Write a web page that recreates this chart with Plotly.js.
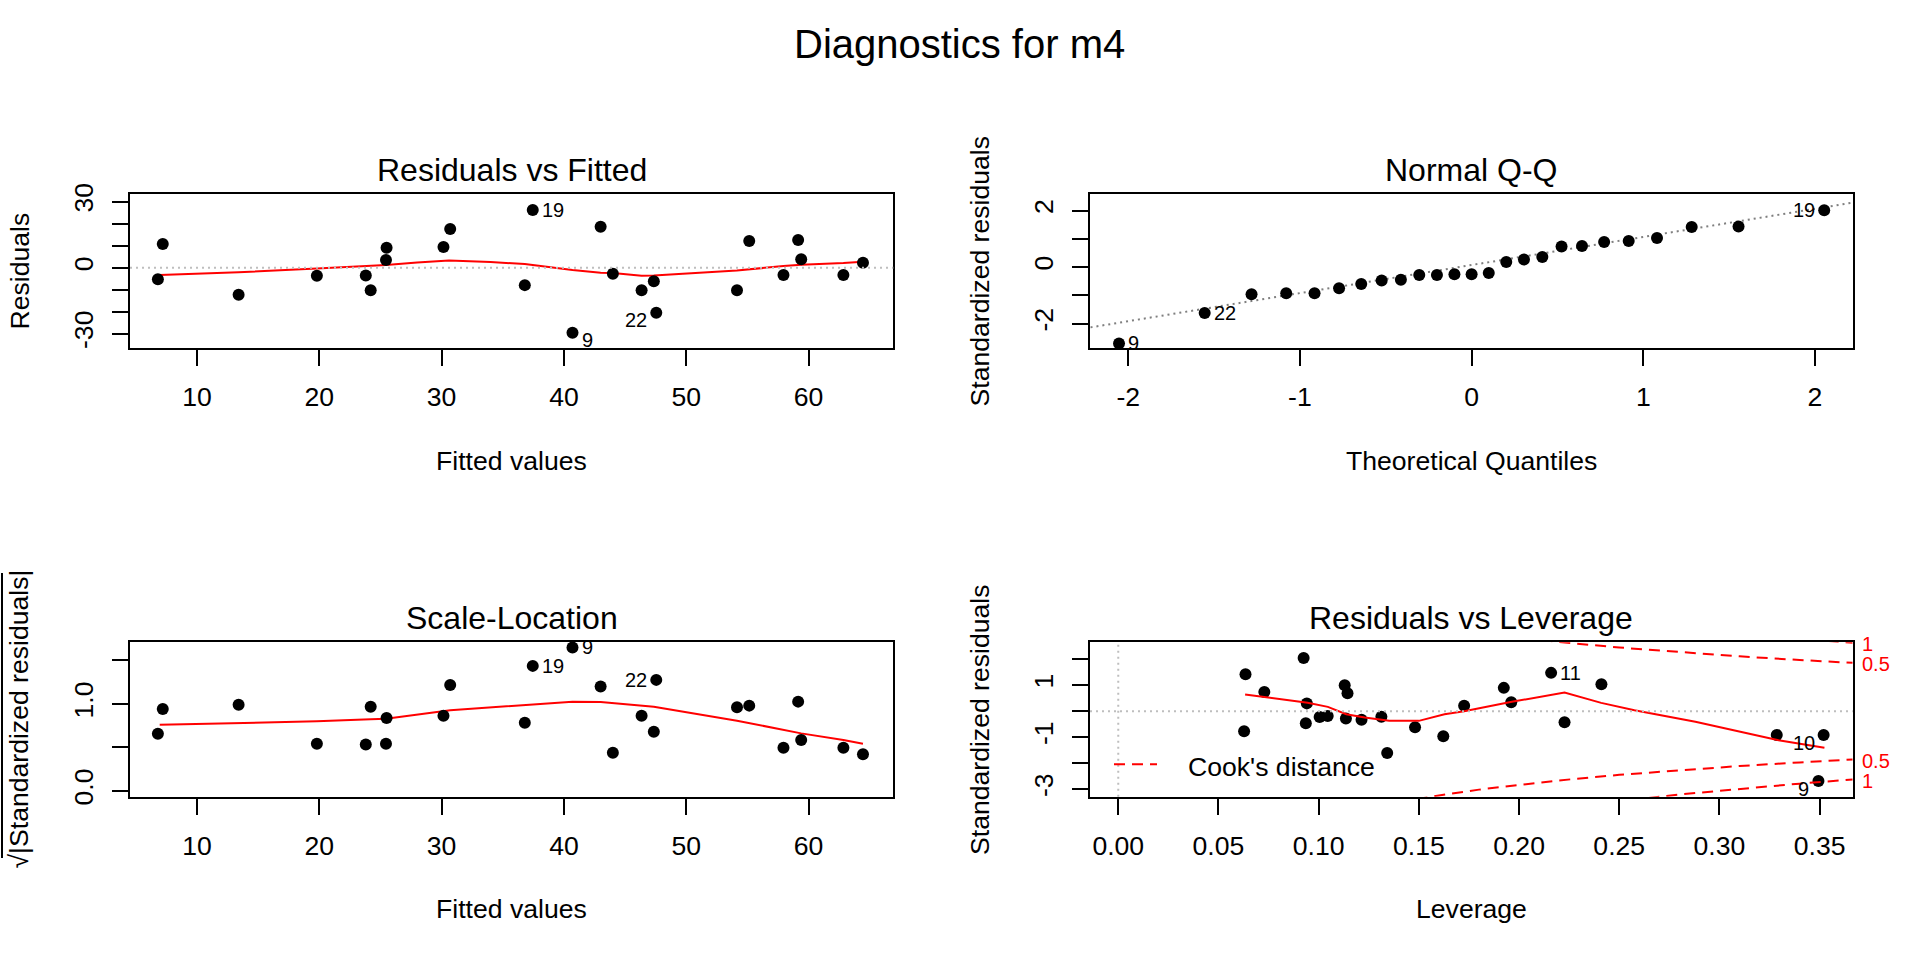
<!DOCTYPE html>
<html>
<head>
<meta charset="utf-8">
<script src="https://cdn.plot.ly/plotly-3.0.1.min.js"></script>
<style>html,body{margin:0;padding:0;background:#fff;}#plot{width:1920px;height:960px;}</style>
</head>
<body>
<div id="plot"></div>
<script>
// ---------------- data ----------------
// Residuals vs Fitted / Scale-Location (same observations, same order)
const fitted = [6.8,7.2,13.4,19.8,23.8,24.2,25.45,25.5,30.15,30.7,36.8,37.45,40.7,43.0,44.0,46.35,47.35,47.55,54.15,55.15,57.95,59.15,59.4,62.85,64.45];
const residuals = [-5.2,10.8,-12.3,-3.6,-3.5,-10.2,3.5,9.1,9.4,17.6,-7.9,26.2,-29.5,18.6,-2.7,-10.2,-6.1,-20.5,-10.2,12.1,-3.3,12.6,3.9,-3.3,2.3];
const sqrtAbsStdRes = [0.658,0.942,0.992,0.542,0.535,0.969,0.542,0.838,0.865,1.219,0.785,1.438,1.65,1.20,0.438,0.865,0.681,1.277,0.962,0.981,0.496,1.027,0.585,0.496,0.423];
// smoother lines
const smoothFitX = [6.95,13.4,19.8,23.8,25.45,28.0,30.6,34.0,36.8,40.7,43.0,44.0,46.35,47.35,54.15,57.95,59.4,62.85,64.45];
const smoothResY = [-3.33,-2.1,-0.3,0.76,1.2,2.4,3.33,2.6,1.67,-1.06,-2.27,-2.4,-3.6,-3.5,-1.2,0.76,1.36,2.1,2.7];
const smoothSLX = [6.95,13.4,19.8,24.2,25.45,30.7,36.8,40.7,43.0,46.35,47.35,54.15,57.95,59.4,62.85,64.45];
const smoothSLY = [0.762,0.781,0.80,0.823,0.831,0.927,0.992,1.027,1.023,0.985,0.969,0.808,0.70,0.662,0.585,0.542];
// Normal Q-Q
const theoQ = [-2.054,-1.555,-1.282,-1.080,-0.915,-0.772,-0.643,-0.524,-0.412,-0.305,-0.202,-0.100,0,0.100,0.202,0.305,0.412,0.524,0.643,0.772,0.915,1.080,1.282,1.555,2.054];
const qqStdRes = [-2.70,-1.62,-0.96,-0.92,-0.92,-0.75,-0.60,-0.47,-0.45,-0.28,-0.28,-0.25,-0.25,-0.21,0.18,0.27,0.36,0.73,0.75,0.89,0.92,1.03,1.42,1.44,2.01];
const qqLineX = [-2.22, 2.22];
const qqLineY = [-2.13, 2.28];
// Residuals vs Leverage
const leverage = [0.0635,0.0628,0.0729,0.0925,0.0936,0.0941,0.1005,0.1045,0.1130,0.1144,0.1136,0.1214,0.1313,0.1342,0.1481,0.1622,0.1726,0.1924,0.1961,0.2160,0.2227,0.2411,0.3286,0.3520,0.3494];
const levStdRes = [1.425,-0.774,0.740,2.045,-0.460,0.300,-0.222,-0.185,0.995,0.690,-0.280,-0.330,-0.210,-1.605,-0.615,-0.960,0.205,0.897,0.346,1.474,-0.423,1.038,-0.915,-0.915,-2.685];
const smoothLevX = [0.0633,0.0945,0.1046,0.1138,0.123,0.1352,0.150,0.1628,0.1726,0.1964,0.2227,0.241,0.2576,0.288,0.3295,0.3524];
const smoothLevY = [0.641,0.32,0.167,-0.115,-0.244,-0.372,-0.372,-0.115,0.0,0.359,0.718,0.32,0.038,-0.41,-1.115,-1.41];
const cookLev05 = [0.14,0.15,0.16,0.18,0.20,0.22,0.25,0.28,0.31,0.34,0.3665];
const cook05 = [3.505,3.367,3.240,3.018,2.828,2.663,2.449,2.268,2.110,1.970,1.859];
const cookLev1 = [0.22,0.25,0.28,0.31,0.34,0.3665];
const cook1 = [3.766,3.464,3.207,2.984,2.787,2.629];
const cookLabelText = ['1','0.5','0.5','1'];
const cookLabelY = [-2.629,-1.859,1.859,2.629];
// labelled observations
const idP1 = [{x:37.45,y:26.2,t:'19',side:'r',dy:0},{x:40.7,y:-29.5,t:'9',side:'r',dy:-7},{x:47.55,y:-20.5,t:'22',side:'l',dy:-7}];
const idP2 = [{x:-2.054,y:-2.70,t:'9',side:'r',dy:0},{x:-1.555,y:-1.62,t:'22',side:'r',dy:0},{x:2.054,y:2.01,t:'19',side:'l',dy:0}];
const idP3 = [{x:40.7,y:1.65,t:'9',side:'r',dy:0},{x:37.45,y:1.438,t:'19',side:'r',dy:0},{x:47.55,y:1.277,t:'22',side:'l',dy:0}];
const idP4 = [{x:0.2160,y:1.474,t:'11',side:'r',dy:0},{x:0.3520,y:-0.915,t:'10',side:'l',dy:-8},{x:0.3494,y:-2.685,t:'9',side:'l',dy:-8}];
// tick labels
const fitTicks = [10,20,30,40,50,60];
const resTickVals = [-30,-20,-10,0,10,20,30];
const resTickText = ['-30','','','0','','','30'];
const qqXTicks = [-2,-1,0,1,2];
const qqYVals = [-2,-1,0,1,2];
const qqYText = ['-2','','0','','2'];
const slYVals = [0,0.5,1.0,1.5];
const slYText = ['0.0','','1.0',''];
const levXVals = [0,0.05,0.10,0.15,0.20,0.25,0.30,0.35];
const levXText = ['0.00','0.05','0.10','0.15','0.20','0.25','0.30','0.35'];
const levYVals = [-3,-2,-1,0,1,2];
const levYText = ['-3','','-1','','1',''];

// ---------------- layout helpers ----------------
const W = 1920, H = 960;
const px = v => v / W;
const py = v => 1 - v / H;
const FONT = 'Liberation Sans, Arial, Helvetica, sans-serif';
const TICKF = 26.6, IDF = 20;

function xAxis(dom, range, vals, text, anchor) {
  return {domain: dom, range: range, anchor: anchor, tickmode: 'array', tickvals: vals, ticktext: text,
    ticks: 'outside', ticklen: 16, tickwidth: 2, tickcolor: '#000', showline: true, linewidth: 2, linecolor: '#000',
    mirror: true, showgrid: false, zeroline: false, tickfont: {family: FONT, size: TICKF, color: '#000'},
    ticklabelstandoff: 8, fixedrange: true};
}
function yAxis(dom, range, vals, text, anchor) {
  const a = xAxis(dom, range, vals, text, anchor);
  a.tickangle = -90;
  a.ticklabelstandoff = 8;
  return a;
}

const P1x = [px(130), px(893.3)], P1y = [py(348.3), py(194)];
const P2x = [px(1090), px(1852.7)], P2y = P1y;
const P3x = P1x, P3y = [py(796.7), py(641.7)];
const P4x = P2x, P4y = [py(796.7), py(642.3)];

const pts = (x, y, xa, ya) => ({x: x, y: y, xaxis: xa, yaxis: ya, type: 'scatter', mode: 'markers',
  marker: {color: '#000', size: 12, line: {width: 0}}, hoverinfo: 'skip', showlegend: false, cliponaxis: false});
const line = (x, y, xa, ya, color, dash, width) => ({x: x, y: y, xaxis: xa, yaxis: ya, type: 'scatter', mode: 'lines',
  line: {color: color, dash: dash, width: width}, hoverinfo: 'skip', showlegend: false});

const COOKDASH = '11px,7px';
const traces = [
  line(smoothFitX, smoothResY, 'x', 'y', '#FF0000', 'solid', 2),
  pts(fitted, residuals, 'x', 'y'),
  line(qqLineX, qqLineY, 'x2', 'y2', '#7F7F7F', '2px,4px', 2),
  pts(theoQ, qqStdRes, 'x2', 'y2'),
  line(smoothSLX, smoothSLY, 'x3', 'y3', '#FF0000', 'solid', 2),
  pts(fitted, sqrtAbsStdRes, 'x3', 'y3'),
  pts(leverage, levStdRes, 'x4', 'y4'),
  line(smoothLevX, smoothLevY, 'x4', 'y4', '#FF0000', 'solid', 2),
  line(cookLev05, cook05, 'x4', 'y4', '#FF0000', COOKDASH, 2),
  line(cookLev05, cook05.map(v => -v), 'x4', 'y4', '#FF0000', COOKDASH, 2),
  line(cookLev1, cook1, 'x4', 'y4', '#FF0000', COOKDASH, 2),
  line(cookLev1, cook1.map(v => -v), 'x4', 'y4', '#FF0000', COOKDASH, 2)
];

const ann = [];
function txt(x, y, t, size, opts) {
  ann.push(Object.assign({x: px(x), y: py(y), xref: 'paper', yref: 'paper', text: t, showarrow: false,
    font: {family: FONT, size: size, color: '#000'}, xanchor: 'center', yanchor: 'middle', borderpad: 0}, opts || {}));
}
txt(959, 44, 'Diagnostics for m4', 40);
txt(511.7, 169.7, 'Residuals vs Fitted', 32);
txt(1471.3, 169.7, 'Normal Q-Q', 32);
txt(511.7, 618, 'Scale-Location', 32);
txt(1471.3, 618, 'Residuals vs Leverage', 32);
txt(511.7, 461, 'Fitted values', TICKF);
txt(1471.3, 461, 'Theoretical Quantiles', TICKF);
txt(511.7, 909, 'Fitted values', TICKF);
txt(1471.3, 909, 'Leverage', TICKF);
txt(19.5, 271, 'Residuals', TICKF, {textangle: -90});
txt(979.5, 271, 'Standardized residuals', TICKF, {textangle: -90});
txt(18.5, 719, '\u221A|Standardized residuals|', TICKF, {textangle: -90});
txt(979.5, 719.5, 'Standardized residuals', TICKF, {textangle: -90});
txt(1186.7, 766.7, "Cook's distance", TICKF, {xanchor: 'left'});

function ids(list, xa, ya) {
  list.forEach(d => ann.push({x: d.x, y: d.y, xref: xa, yref: ya, text: d.t, showarrow: false,
    font: {family: FONT, size: IDF, color: '#000'}, xanchor: d.side === 'r' ? 'left' : 'right', yanchor: 'middle',
    xshift: d.side === 'r' ? 8 : -8, yshift: d.dy, borderpad: 0}));
}
ids(idP1, 'x', 'y'); ids(idP2, 'x2', 'y2'); ids(idP3, 'x3', 'y3'); ids(idP4, 'x4', 'y4');
// Cook's distance contour labels in the right margin of the leverage panel
cookLabelY.forEach((v, i) => ann.push({x: 1, y: v, xref: 'x4 domain', yref: 'y4', text: cookLabelText[i], showarrow: false,
  font: {family: FONT, size: IDF, color: '#FF0000'}, xanchor: 'left', yanchor: 'middle', xshift: 8, yshift: -1, borderpad: 0}));

const shapes = [
  {type: 'line', xref: 'x domain', yref: 'y', x0: 0, x1: 1, y0: 0, y1: 0, line: {color: '#BEBEBE', width: 2, dash: '2px,4px'}},
  {type: 'line', xref: 'x4 domain', yref: 'y4', x0: 0, x1: 1, y0: 0, y1: 0, line: {color: '#BEBEBE', width: 2, dash: '2px,4px'}},
  {type: 'line', xref: 'x4', yref: 'y4 domain', x0: 0, x1: 0, y0: 0, y1: 1, line: {color: '#BEBEBE', width: 2, dash: '2px,4px'}},
  {type: 'line', xref: 'paper', yref: 'paper', x0: px(1114), x1: px(1157), y0: py(764.3), y1: py(764.3), line: {color: '#FF0000', width: 2, dash: COOKDASH}},
  {type: 'line', xref: 'paper', yref: 'paper', x0: px(2), x1: px(2), y0: py(573), y1: py(858), line: {color: '#000', width: 2}}
];

const layout = {
  width: W, height: H, margin: {l: 0, r: 0, t: 0, b: 0}, paper_bgcolor: '#fff', plot_bgcolor: '#fff',
  showlegend: false, font: {family: FONT, color: '#000'},
  xaxis: xAxis(P1x, [4.52, 66.93], fitTicks, fitTicks.map(String), 'y'),
  yaxis: yAxis(P1y, [-36.6, 33.5], resTickVals, resTickText, 'x'),
  xaxis2: xAxis(P2x, [-2.223, 2.22], qqXTicks, qqXTicks.map(String), 'y2'),
  yaxis2: yAxis(P2y, [-2.87, 2.585], qqYVals, qqYText, 'x2'),
  xaxis3: xAxis(P3x, [4.52, 66.93], fitTicks, fitTicks.map(String), 'y3'),
  yaxis3: yAxis(P3y, [-0.066, 1.716], slYVals, slYText, 'x3'),
  xaxis4: xAxis(P4x, [-0.0141, 0.3665], levXVals, levXText, 'y4'),
  yaxis4: yAxis(P4y, [-3.29, 2.65], levYVals, levYText, 'x4'),
  annotations: ann, shapes: shapes
};
Plotly.newPlot('plot', traces, layout, {staticPlot: true, displayModeBar: false});
</script>
</body>
</html>
